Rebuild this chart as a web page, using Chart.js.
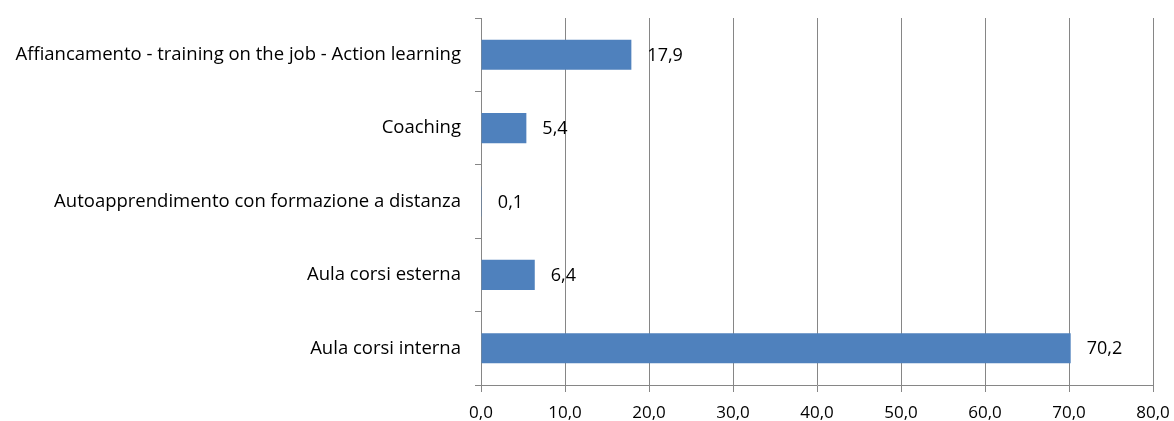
<!DOCTYPE html>
<html>
<head>
<meta charset="utf-8">
<script src="https://cdn.jsdelivr.net/npm/chart.js@4.4.0/dist/chart.umd.min.js"></script>
<style>
  html, body { margin: 0; padding: 0; background: #fff; }
  #wrap { width: 1174px; height: 421px; }
</style>
</head>
<body>
<div id="wrap"><canvas id="myChart" width="1174" height="421"></canvas></div>
<script>
const categories = [
	'Affiancamento - training on the job - Action learning',
	'Coaching',
	'Autoapprendimento con formazione a distanza',
	'Aula corsi esterna',
	'Aula corsi interna'
];
const values = [17.9, 5.4, 0.1, 6.4, 70.2];
const xTicks = [0, 10, 20, 30, 40, 50, 60, 70, 80];

const fontFamily = '"Open Sans", "Liberation Sans", Arial, sans-serif';
const gridColor = '#868686';

// value labels to the right of each bar, comma decimal
const valueLabels = {
	id: 'valueLabels',
	afterDatasetsDraw(chart) {
		const ctx = chart.ctx;
		const meta = chart.getDatasetMeta(0);
		ctx.save();
		ctx.font = '18px ' + fontFamily;
		ctx.fillStyle = '#000';
		ctx.textAlign = 'left';
		ctx.textBaseline = 'middle';
		meta.data.forEach((bar, i) => {
			ctx.fillText(values[i].toFixed(1).replace('.', ','), bar.x + 16, bar.y + 1);
		});
		ctx.restore();
	}
};

const chartt = new Chart(document.getElementById('myChart'), {
	type: 'bar',
	data: {
		labels: categories,
		datasets: [{
			data: values,
			backgroundColor: '#4F81BD',
			borderWidth: 0,
			categoryPercentage: 0.82,
			barPercentage: 0.5
		}]
	},
	options: {
		indexAxis: 'y',
		responsive: false,
		animation: false,
		layout: { padding: { top: 18, right: 21, left: 0, bottom: 0 } },
		plugins: {
			legend: { display: false },
			tooltip: { enabled: false }
		},
		scales: {
			x: {
				min: 0,
				max: 80,
				afterBuildTicks: (scale) => { scale.ticks = xTicks.map(v => ({ value: v })); },
				afterFit: (scale) => {
					scale.height = 36;
					scale.paddingLeft = 0;
					scale.paddingRight = 0;
				},
				grid: { color: gridColor, lineWidth: 1, tickLength: 7, drawTicks: true },
				border: { display: true, color: gridColor },
				ticks: {
					color: '#000',
					font: { family: fontFamily, size: 17 },
					padding: 11,
					maxRotation: 0,
					callback: (v) => Number(v).toFixed(1).replace('.', ',')
				}
			},
			y: {
				afterFit: (scale) => {
					scale.width = 481;
					scale.paddingTop = 0;
					scale.paddingBottom = 0;
				},
				grid: { drawOnChartArea: false, color: gridColor, tickLength: 6, offset: true },
				border: { display: true, color: gridColor },
				ticks: {
					color: '#000',
					font: { family: fontFamily, size: 18.5 },
					padding: 14
				}
			}
		}
	},
	plugins: [valueLabels]
});
</script>
</body>
</html>
